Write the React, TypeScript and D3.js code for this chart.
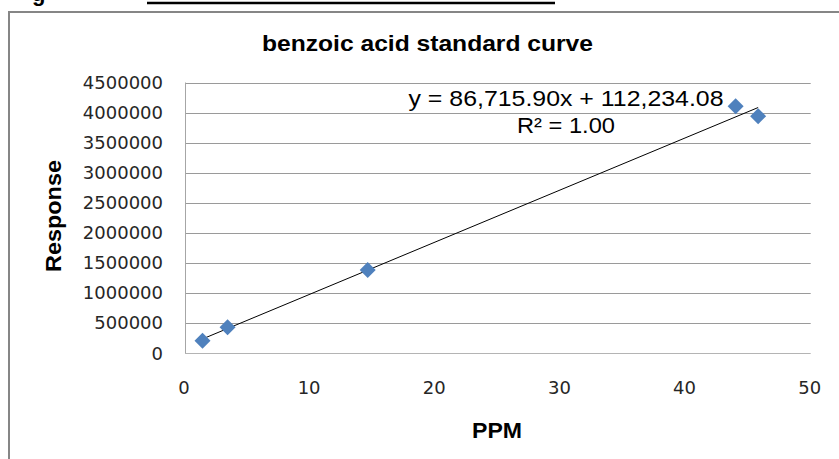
import React, { useEffect, useRef } from 'react';
import * as d3 from 'd3';

// PPM (x) and detector response (y)
const ppmValues = [1.4, 3.4, 14.6, 44.0, 45.8];
const responseValues = [205000, 428000, 1380000, 4105000, 3940000];

const xTicks = [0, 10, 20, 30, 40, 50];
const yTicks = [0, 500000, 1000000, 1500000, 2000000, 2500000, 3000000, 3500000, 4000000, 4500000];

// trendline as printed on the chart
const trendSlope = 86715.9;
const trendIntercept = 112234.08;
const equationLines = ['y = 86,715.90x + 112,234.08', 'R² = 1.00'];

const chartTitle = 'benzoic acid standard curve';
const xTitle = 'PPM';
const yTitle = 'Response';

const MARKER = '#4f81bd';
const LABEL_FONT = '"Liberation Sans", Arial, sans-serif';
const TICK_FONT = '"DejaVu Sans", Verdana, sans-serif';

const App: React.FC = () => {
  const svgRef = useRef<SVGSVGElement>(null);

  useEffect(() => {
    if (!svgRef.current) {
      return;
    }
    const width = 839;
    const height = 459;
    const svg = d3.select(svgRef.current);
    svg.selectAll('*').remove();
    svg.attr('width', width).attr('height', height).attr('viewBox', `0 0 ${width} ${height}`);

    svg.append('rect').attr('width', width).attr('height', height).attr('fill', '#ffffff');

    // leftover bits of the document above the chart
    svg
      .append('text')
      .attr('x', 32)
      .attr('y', 1)
      .attr('font-family', LABEL_FONT)
      .attr('font-weight', 700)
      .attr('font-size', '22px')
      .attr('fill', '#000')
      .text('g');
    svg
      .append('line')
      .attr('x1', 147)
      .attr('x2', 555)
      .attr('y1', 3)
      .attr('y2', 3)
      .attr('stroke', '#000')
      .attr('stroke-width', 2.5);

    // chart frame, runs off the right and bottom of the picture
    svg
      .append('rect')
      .attr('x', 9)
      .attr('y', 12)
      .attr('width', 900)
      .attr('height', 500)
      .attr('fill', 'none')
      .attr('stroke', '#868686')
      .attr('stroke-width', 2);

    const x = d3.scaleLinear().domain([0, 50]).range([185, 810.7]);
    const y = d3.scaleLinear().domain([0, 4500000]).range([353, 82.5]);

    // gridlines
    svg
      .append('g')
      .selectAll('line')
      .data(yTicks.filter((t) => t > 0))
      .enter()
      .append('line')
      .attr('x1', x(0))
      .attr('x2', x(50))
      .attr('y1', (d) => Math.round(y(d)) + 0.5)
      .attr('y2', (d) => Math.round(y(d)) + 0.5)
      .attr('stroke', '#9a9a9a')
      .attr('stroke-width', 1);

    // axis lines
    svg
      .append('line')
      .attr('x1', Math.round(x(0)) + 0.5)
      .attr('x2', Math.round(x(0)) + 0.5)
      .attr('y1', y(4500000))
      .attr('y2', y(0))
      .attr('stroke', '#a6a6a6');
    svg
      .append('line')
      .attr('x1', x(0))
      .attr('x2', x(50))
      .attr('y1', Math.round(y(0)) + 0.5)
      .attr('y2', Math.round(y(0)) + 0.5)
      .attr('stroke', '#b4b4b4');

    // tick labels
    svg
      .append('g')
      .selectAll('text')
      .data(yTicks)
      .enter()
      .append('text')
      .attr('x', 163)
      .attr('y', (d) => y(d) + 6.5)
      .attr('text-anchor', 'end')
      .attr('font-family', TICK_FONT)
      .attr('font-size', '18px')
      .attr('fill', '#262626')
      .text((d) => String(d));

    svg
      .append('g')
      .selectAll('text')
      .data(xTicks)
      .enter()
      .append('text')
      .attr('x', (d) => x(d) - 1)
      .attr('y', 394)
      .attr('text-anchor', 'middle')
      .attr('font-family', TICK_FONT)
      .attr('font-size', '18px')
      .attr('fill', '#262626')
      .text((d) => String(d));

    // trendline over the range of the data
    const [xMin, xMax] = d3.extent(ppmValues) as [number, number];
    svg
      .append('line')
      .attr('x1', x(xMin))
      .attr('y1', y(trendSlope * xMin + trendIntercept))
      .attr('x2', x(xMax))
      .attr('y2', y(trendSlope * xMax + trendIntercept))
      .attr('stroke', '#000')
      .attr('stroke-width', 1);

    // markers
    const points = ppmValues.map((p, i) => ({ p, r: responseValues[i] }));
    const diamond = d3.symbol().type(d3.symbolSquare).size(128);
    svg
      .append('g')
      .selectAll('path')
      .data(points)
      .enter()
      .append('path')
      .attr('d', diamond)
      .attr('transform', (d) => `translate(${x(d.p)}, ${y(d.r)}) rotate(45)`)
      .attr('fill', MARKER);

    // trendline label
    const eqWidths = [315, 98];
    svg
      .append('g')
      .selectAll('text')
      .data(equationLines)
      .enter()
      .append('text')
      .attr('x', 566)
      .attr('y', (_, i) => 106 + i * 27)
      .attr('text-anchor', 'middle')
      .attr('font-family', LABEL_FONT)
      .attr('font-size', '22px')
      .attr('fill', '#000')
      .attr('textLength', (_, i) => eqWidths[i])
      .attr('lengthAdjust', 'spacingAndGlyphs')
      .text((d) => d);

    // titles
    svg
      .append('text')
      .attr('x', 427.5)
      .attr('y', 51)
      .attr('text-anchor', 'middle')
      .attr('font-family', LABEL_FONT)
      .attr('font-weight', 700)
      .attr('font-size', '22px')
      .attr('textLength', 331)
      .attr('lengthAdjust', 'spacingAndGlyphs')
      .text(chartTitle);

    svg
      .append('text')
      .attr('x', 497)
      .attr('y', 438)
      .attr('text-anchor', 'middle')
      .attr('font-family', LABEL_FONT)
      .attr('font-weight', 700)
      .attr('font-size', '22px')
      .attr('textLength', 50)
      .attr('lengthAdjust', 'spacingAndGlyphs')
      .text(xTitle);

    svg
      .append('text')
      .attr('transform', 'translate(61, 216) rotate(-90)')
      .attr('text-anchor', 'middle')
      .attr('font-family', LABEL_FONT)
      .attr('font-weight', 700)
      .attr('font-size', '22px')
      .attr('textLength', 112)
      .attr('lengthAdjust', 'spacingAndGlyphs')
      .text(yTitle);
  }, []);

  return (
    <div style={{ position: 'absolute', left: 0, top: 0 }}>
      <svg ref={svgRef} style={{ display: 'block' }} />
    </div>
  );
};

export default App;
